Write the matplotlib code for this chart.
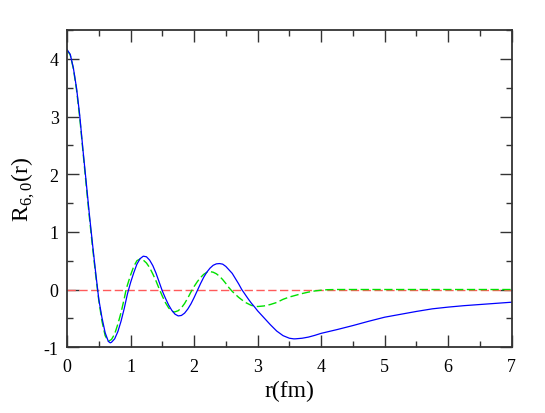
import matplotlib
matplotlib.use("Agg")
from matplotlib import pyplot as plt
from matplotlib.ticker import MultipleLocator

plt.rcParams["font.family"] = ["Liberation Serif", "DejaVu Serif"]
plt.rcParams["mathtext.fontset"] = "custom"
plt.rcParams["mathtext.rm"] = "Liberation Serif"
plt.rcParams["axes.unicode_minus"] = False

# blue solid curve
r_blue = [0.00, 0.05, 0.10, 0.15, 0.20, 0.25, 0.30, 0.35, 0.40, 0.45,
          0.50, 0.55, 0.60, 0.65, 0.68, 0.70, 0.75, 0.80, 0.85, 0.90,
          0.95, 1.00, 1.05, 1.10, 1.15, 1.20, 1.25, 1.30, 1.35, 1.40,
          1.45, 1.50, 1.55, 1.60, 1.65, 1.70, 1.75, 1.80, 1.85, 1.90,
          1.95, 2.00, 2.05, 2.10, 2.15, 2.20, 2.25, 2.30, 2.35, 2.40,
          2.45, 2.50, 2.55, 2.60, 2.65, 2.70, 2.75, 2.80, 2.85, 2.90,
          2.95, 3.00, 3.10, 3.20, 3.30, 3.40, 3.50, 3.57, 3.60, 3.70,
          3.80, 3.90, 4.00, 4.25, 4.50, 4.75, 5.00, 5.25, 5.50, 5.75,
          6.00, 6.25, 6.50, 6.75, 7.00]
R_blue = [4.16, 4.08, 3.84, 3.49, 3.02, 2.43, 1.88, 1.32, 0.80, 0.30,
          -0.17, -0.49, -0.75, -0.90, -0.925, -0.915, -0.855, -0.73, -0.55, -0.33,
          -0.08, 0.12, 0.29, 0.44, 0.535, 0.578, 0.568, 0.51, 0.415, 0.285,
          0.13, -0.026, -0.154, -0.27, -0.363, -0.428, -0.458, -0.45, -0.41, -0.34,
          -0.25, -0.14, -0.02, 0.10, 0.21, 0.30, 0.37, 0.42, 0.445, 0.45,
          0.44, 0.40, 0.34, 0.28, 0.19, 0.10, 0.00, -0.08, -0.16, -0.235,
          -0.30, -0.37, -0.49, -0.61, -0.72, -0.80, -0.845, -0.856, -0.855, -0.845,
          -0.825, -0.795, -0.76, -0.695, -0.625, -0.55, -0.48, -0.43, -0.38, -0.335,
          -0.305, -0.28, -0.26, -0.24, -0.22]

# green dashed curve
r_green = [0.00, 0.05, 0.10, 0.15, 0.20, 0.25, 0.30, 0.35, 0.40, 0.45,
           0.50, 0.55, 0.60, 0.65, 0.70, 0.75, 0.80, 0.85, 0.90, 0.93,
           0.95, 1.00, 1.05, 1.10, 1.15, 1.20, 1.25, 1.30, 1.35, 1.40,
           1.45, 1.50, 1.55, 1.60, 1.65, 1.69, 1.75, 1.80, 1.85, 1.90,
           1.95, 2.00, 2.05, 2.10, 2.15, 2.20, 2.25, 2.30, 2.35, 2.40,
           2.45, 2.50, 2.55, 2.60, 2.70, 2.80, 2.90, 3.00, 3.10, 3.20,
           3.30, 3.40, 3.50, 3.60, 3.70, 3.80, 3.90, 4.00, 4.10, 4.25,
           5.00, 6.00, 7.00]
R_green = [4.15, 4.07, 3.83, 3.46, 2.98, 2.40, 1.83, 1.27, 0.75, 0.26,
           -0.19, -0.55, -0.80, -0.90, -0.866, -0.77, -0.60, -0.40, -0.16, 0.0,
           0.076, 0.25, 0.40, 0.50, 0.53, 0.51, 0.46, 0.38, 0.27, 0.15,
           0.013, -0.115, -0.23, -0.32, -0.376, -0.39, -0.368, -0.318, -0.243, -0.149,
           -0.044, 0.052, 0.135, 0.206, 0.262, 0.298, 0.31, 0.30, 0.273, 0.23,
           0.172, 0.104, 0.03, -0.032, -0.135, -0.22, -0.275, -0.295, -0.285, -0.26,
           -0.225, -0.17, -0.13, -0.10, -0.07, -0.045, -0.025, -0.012, -0.003, 0.0,
           0.0, 0.0, 0.0]

# red dashed zero line
r_zero = [0.0, 7.0]
R_zero = [0.0, 0.0]

fig = plt.figure(figsize=(5.45, 4.14), dpi=100)
ax = fig.add_axes([0.123, 0.159, 0.816, 0.766])

ax.plot(r_zero, R_zero, color="#ff5a5a", lw=1.0, dashes=(6, 2.5))
ax.plot(r_green, R_green, color="#00e000", lw=1.0, dashes=(6, 2.5))
ax.plot(r_blue, R_blue, color="#0000ff", lw=0.9)

ax.set_xlim(0, 7)
ax.set_ylim(-1, 4.5)
ax.xaxis.set_major_locator(MultipleLocator(1))
ax.xaxis.set_minor_locator(MultipleLocator(0.5))
ax.yaxis.set_major_locator(MultipleLocator(1))
ax.yaxis.set_minor_locator(MultipleLocator(0.5))

ax.tick_params(which="both", direction="in", top=True, right=True,
               width=1.0, colors="#333333", labelcolor="black", labelsize=13)
ax.tick_params(which="major", length=8.5)
ax.tick_params(which="minor", length=4.3)
ax.tick_params(axis="x", which="major", pad=8)
ax.tick_params(axis="y", which="major", pad=6)
for s in ax.spines.values():
    s.set_linewidth(1.3)
    s.set_color("#333333")

ax.set_xlabel("r(fm)", fontsize=17, labelpad=3)
ax.set_ylabel(r"R$_{\rm 6,0}$(r)", fontsize=17, labelpad=5)

fig.savefig("out.png", dpi=100)
